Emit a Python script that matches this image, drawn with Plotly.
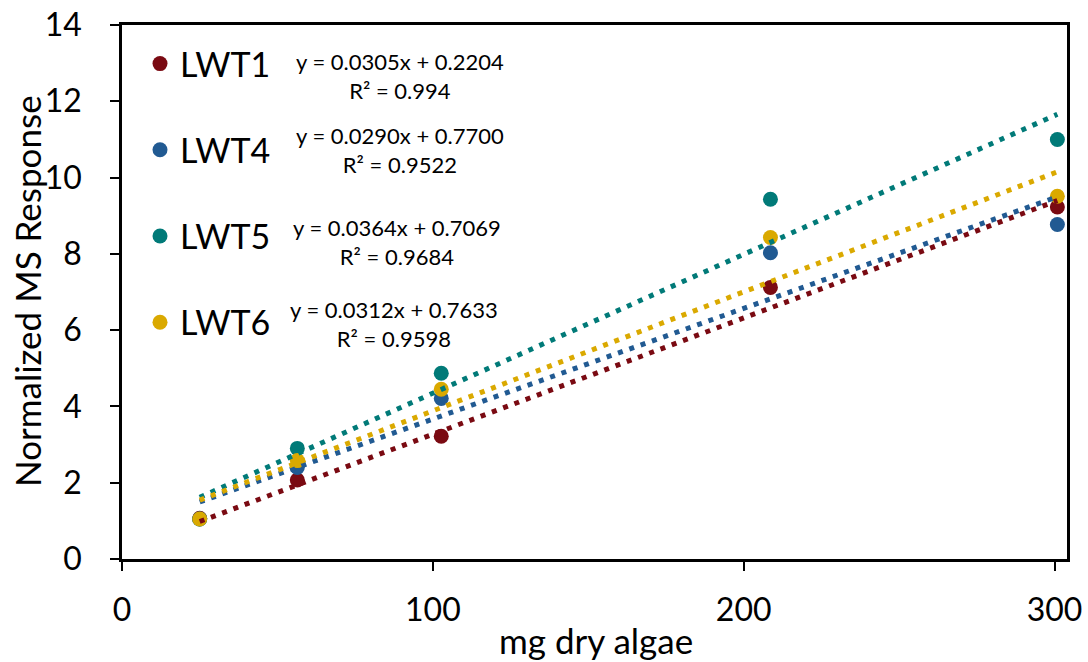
import plotly.graph_objects as go

# ---- data ----
series_names = ["LWT1", "LWT4", "LWT5", "LWT6"]
x_mg = [25, 56.4, 102.7, 208.6, 300.9]
lwt1 = [1.07, 2.07, 3.22, 7.12, 9.23]
lwt4 = [1.05, 2.40, 4.21, 8.03, 8.77]
lwt5 = [1.05, 2.90, 4.87, 9.43, 11.00]
lwt6 = [1.05, 2.58, 4.45, 8.43, 9.51]
slopes = [0.0305, 0.0290, 0.0364, 0.0312]
intercepts = [0.2204, 0.7700, 0.7069, 0.7633]
r2_labels = ["0.994", "0.9522", "0.9684", "0.9598"]
colors = ["#7A0A12", "#215A92", "#017A78", "#DAA900"]

series_values = [lwt1, lwt4, lwt5, lwt6]
FONT = "Lato"

fig = go.Figure()

for name, ys, c in zip(series_names, series_values, colors):
    fig.add_trace(go.Scatter(
        x=x_mg, y=ys, mode="markers", name=name, legendgroup=name,
        marker=dict(color=c, size=15, line=dict(width=0)),
    ))

x_lo, x_hi = min(x_mg), max(x_mg)
for name, s, b, c in zip(series_names, slopes, intercepts, colors):
    fig.add_trace(go.Scatter(
        x=[x_lo, x_hi], y=[s * x_lo + b, s * x_hi + b], mode="lines",
        line=dict(color=c, width=5, dash="5px,7px"),
        showlegend=False, hoverinfo="skip",
    ))

# equation annotations
eq_x = [400, 400, 397, 394]
eq_y = [76, 150, 242, 324]
W, H = 1088, 662
L, R, T, B = 122, 21, 25, 103
pw, ph = W - L - R, H - T - B
annos = []
for s, b, r2, ex, ey in zip(slopes, intercepts, r2_labels, eq_x, eq_y):
    annos.append(dict(
        text=f"y = {s:.4f}x + {b:.4f}<br>R² = {r2}",
        xref="paper", yref="paper",
        x=(ex - L) / pw, y=(H - B - ey) / ph,
        xanchor="center", yanchor="middle", align="center", showarrow=False,
        font=dict(family=FONT, size=22, color="black"),
    ))
# axis titles
annos.append(dict(text="mg dry algae", xref="paper", yref="paper",
                  x=(596 - L) / pw, y=(H - B - 640) / ph, xanchor="center", yanchor="middle",
                  showarrow=False, font=dict(family=FONT, size=35, color="black")))
annos.append(dict(text="Normalized MS Response", xref="paper", yref="paper",
                  x=(27 - L) / pw, y=(H - B - 291) / ph, xanchor="center", yanchor="middle",
                  textangle=-90, showarrow=False, font=dict(family=FONT, size=35, color="black")))

fig.update_layout(
    width=W, height=H,
    margin=dict(l=L, r=R, t=T, b=B, autoexpand=False),
    paper_bgcolor="white", plot_bgcolor="white",
    font=dict(family=FONT, color="black"),
    annotations=annos,
    showlegend=True,
    legend=dict(x=(140 - L) / pw, y=(H - B - 35) / ph, xanchor="left", yanchor="top",
                font=dict(family=FONT, size=34, color="black"),
                bgcolor="rgba(0,0,0,0)", tracegroupgap=39, traceorder="grouped",
                itemsizing="trace"),
)
fig.update_xaxes(range=[0, 304], tickvals=[0, 100, 200, 300], showline=True, linewidth=2.5,
                 linecolor="black", mirror=True, ticks="outside", ticklen=9, tickwidth=2,
                 tickcolor="black", showgrid=False, zeroline=False, automargin=False,
                 tickfont=dict(family=FONT, size=32, color="black"), ticklabelstandoff=12)
fig.update_yaxes(range=[0, 14], tickvals=list(range(0, 15, 2)), showline=True, linewidth=2.5,
                 linecolor="black", mirror=True, ticks="outside", ticklen=9, tickwidth=2,
                 tickcolor="black", showgrid=False, zeroline=False, automargin=False,
                 tickfont=dict(family=FONT, size=32, color="black"), ticklabelstandoff=22)

fig.write_html("out.html")
